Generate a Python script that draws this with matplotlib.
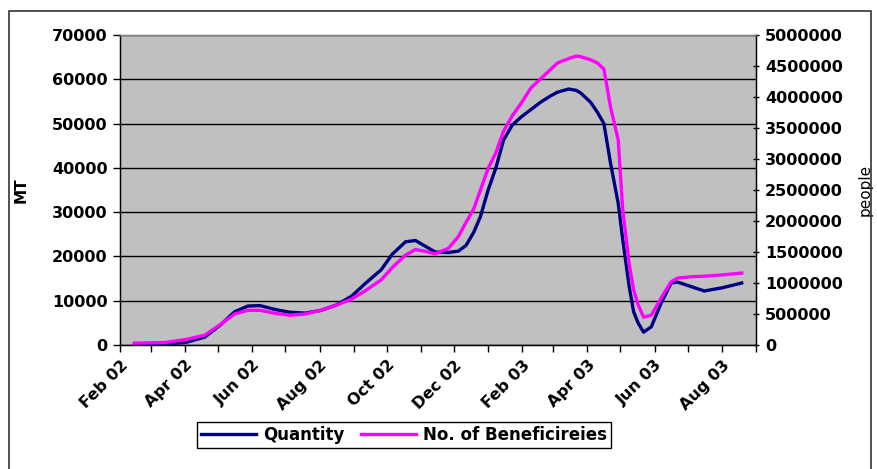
import pandas as pd
import matplotlib
matplotlib.use('Agg')
import matplotlib.pyplot as plt
import matplotlib.dates as mdates
from matplotlib.patches import Rectangle
from matplotlib.ticker import MultipleLocator, FuncFormatter

# Datos
fechas = ['2002-02-14', '2002-03-14', '2002-04-02', '2002-04-19', '2002-05-03',
          '2002-05-16', '2002-05-28', '2002-06-08', '2002-06-22', '2002-07-05',
          '2002-07-19', '2002-08-02', '2002-08-16', '2002-08-30', '2002-09-12',
          '2002-09-26', '2002-10-06', '2002-10-18', '2002-10-27', '2002-11-05',
          '2002-11-14', '2002-11-26', '2002-12-05', '2002-12-12', '2002-12-19',
          '2002-12-25', '2003-01-01', '2003-01-08', '2003-01-15', '2003-01-23',
          '2003-01-31', '2003-02-09', '2003-02-18', '2003-02-27', '2003-03-05',
          '2003-03-15', '2003-03-22', '2003-03-26', '2003-04-04', '2003-04-10',
          '2003-04-16', '2003-04-22', '2003-04-29', '2003-05-03', '2003-05-09',
          '2003-05-13', '2003-05-17', '2003-05-22', '2003-05-29', '2003-06-07',
          '2003-06-16', '2003-06-22', '2003-07-04', '2003-07-16', '2003-08-01',
          '2003-08-19']

cantidad = [0, 200, 600, 1800, 4500,
            7500, 8800, 8900, 8000, 7400,
            7200, 7800, 9000, 11000, 14000,
            17000, 20500, 23300, 23600, 22300,
            21000, 20900, 21200, 22500, 25500,
            29000, 35000, 40000, 46300, 49700,
            51500, 53200, 54900, 56300, 57100,
            57800, 57500, 56900, 54800, 52600,
            50000, 41100, 32000, 24000, 13100,
            7500, 5000, 2900, 4100, 9500,
            14000, 14200, 13200, 12200, 12900,
            14000]

beneficiarios = [30000, 40000, 90000, 160000, 330000,
                 500000, 560000, 560000, 510000, 480000,
                 500000, 560000, 640000, 740000, 880000,
                 1050000, 1250000, 1450000, 1540000, 1510000,
                 1470000, 1560000, 1750000, 1980000, 2200000,
                 2500000, 2850000, 3100000, 3450000, 3700000,
                 3900000, 4150000, 4300000, 4450000, 4550000,
                 4620000, 4660000, 4650000, 4600000, 4550000,
                 4450000, 3840000, 3310000, 2200000, 1300000,
                 890000, 650000, 450000, 480000, 760000,
                 1020000, 1080000, 1100000, 1110000, 1130000,
                 1160000]

df = pd.DataFrame({'date': pd.to_datetime(fechas),
                   'qty': cantidad,
                   'ben': beneficiarios})

plt.rcParams['font.family'] = 'DejaVu Sans'

fig = plt.figure(figsize=(8.77, 4.69), dpi=100)

# marco exterior
fig.patches.append(Rectangle((9 / 877, -0.02), 862 / 877, (469 - 11) / 469 + 0.02,
                             transform=fig.transFigure, fill=False,
                             edgecolor='#333333', linewidth=1.2))

ax = fig.add_axes([120 / 877, 1 - 345 / 469, 636 / 877, 310 / 469])
ax.set_facecolor('#C0C0C0')
ax2 = ax.twinx()

l1, = ax.plot(df['date'], df['qty'], color='#000080', linewidth=2.4, zorder=3,
              solid_joinstyle='round')
l2, = ax2.plot(df['date'], df['ben'], color='#FF00FF', linewidth=2.4, zorder=3,
               solid_joinstyle='round')

ax.set_xlim(pd.Timestamp('2002-02-01'), pd.Timestamp('2003-09-01'))
ax.set_ylim(0, 70000)
ax2.set_ylim(0, 5000000)

ax.yaxis.set_major_locator(MultipleLocator(10000))
ax2.yaxis.set_major_locator(MultipleLocator(500000))
ax.yaxis.set_major_formatter(FuncFormatter(lambda v, p: '%d' % v))
ax2.yaxis.set_major_formatter(FuncFormatter(lambda v, p: '%d' % v))

ax.xaxis.set_major_locator(mdates.MonthLocator(bymonth=[2, 4, 6, 8, 10, 12]))
ax.xaxis.set_minor_locator(mdates.MonthLocator())
ax.xaxis.set_major_formatter(mdates.DateFormatter('%b %y'))

ax.grid(axis='y', color='black', linewidth=1.0)
ax.set_axisbelow(True)

for lab in ax.get_xticklabels():
    lab.set_rotation(45)
    lab.set_ha('right')
    lab.set_rotation_mode('anchor')
    lab.set_fontweight('bold')
    lab.set_fontsize(11.5)

ax.tick_params(axis='x', which='both', length=5, width=1, color='black', pad=4)
ax.tick_params(axis='y', length=5, width=1, labelsize=11.5, pad=4)
ax2.tick_params(axis='y', length=5, width=1, direction='inout', labelsize=11.5, pad=4)
for lab in ax.get_yticklabels() + ax2.get_yticklabels():
    lab.set_fontweight('bold')

ax.spines['top'].set_color('#808080')
ax2.spines['top'].set_color('#808080')
ax.spines['left'].set_color('black')
ax.spines['bottom'].set_color('black')
ax2.spines['right'].set_color('black')
for s in ax2.spines.values():
    s.set_linewidth(1.0)

ax.set_ylabel('MT', fontsize=11, fontweight='bold')
ax.yaxis.set_label_coords(-0.144, 0.5)
ax2.set_ylabel('people', fontsize=11)
ax2.yaxis.set_label_coords(1.16, 0.5)

fig.legend([l1, l2], ['Quantity', 'No. of Beneficireies'], ncol=2,
           loc='center', bbox_to_anchor=(404 / 877, 1 - 435 / 469),
           frameon=True, fancybox=False, edgecolor='black', framealpha=1,
           prop={'weight': 'bold', 'size': 12}, handlelength=3.3,
           borderpad=0.25, columnspacing=1.0, handletextpad=0.4)

fig.savefig('out.png', dpi=100)
